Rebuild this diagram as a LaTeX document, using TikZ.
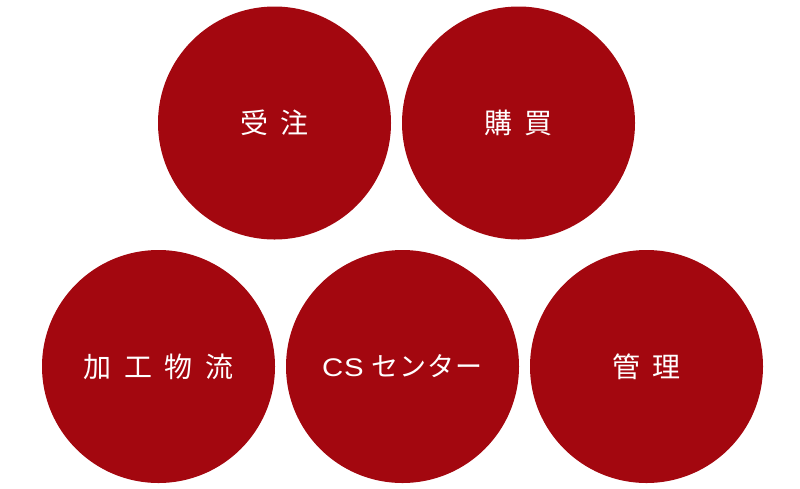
\documentclass[tikz,border=0pt]{standalone}
\usepackage{fontspec}
\newfontfamily\jpsp[LetterSpace=46]{Noto Sans CJK JP}
\newfontfamily\jpkana[LetterSpace=4]{Noto Sans CJK JP}
\newfontfamily\latinwide[FakeStretch=1.15]{Liberation Sans}
\definecolor{circred}{HTML}{A3070F}
\begin{document}
\begin{tikzpicture}[x=1pt,y=-1pt,
  disc/.style={circle,fill=circred,minimum size=233pt,inner sep=0pt,text=white,font=\jpsp\fontsize{28}{30}\selectfont}]
\useasboundingbox (0,0) rectangle (800,488);
\node[disc] (order) at (274.5,123) {受注\hspace{-13pt}};
\node[disc] (buy) at (518.5,123) {購買\hspace{-13pt}};
\node[disc] (proc) at (158.5,366.5) {加工物流\hspace{-13pt}};
\node[disc] (cs) at (402.5,366.5) {{\latinwide\fontsize{25.5}{30}\selectfont C\kern1pt S}\kern8pt{\jpkana\fontsize{27}{30}\selectfont センター}\hspace{-1pt}};
\node[disc] (mgmt) at (646.5,366.5) {管理\hspace{-13pt}};
\end{tikzpicture}
\end{document}
